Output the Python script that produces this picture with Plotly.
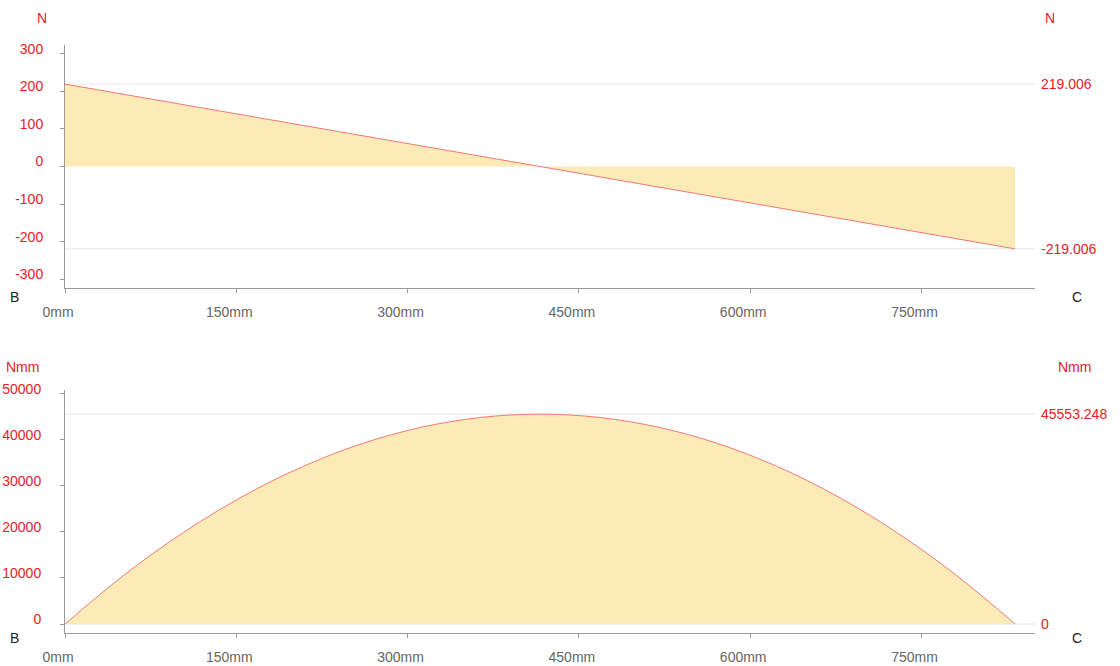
import plotly.graph_objects as go

# ---- data ----
shear_x = [0, 832]
shear_v = [219.006, -219.006]

moment_x = [0, 52, 104, 156, 208, 260, 312, 364, 416, 468, 520, 572, 624, 676, 728, 780, 832]
moment_v = [0, 10676.6, 19929.7, 27759.2, 34165.2, 39147.6, 42706.4, 44841.8, 45553.248,
            44841.8, 42706.4, 39147.6, 34165.2, 27759.2, 19929.7, 10676.6, 0]

x_ticks = [0, 150, 300, 450, 600, 750]
x_tick_labels = ["0mm", "150mm", "300mm", "450mm", "600mm", "750mm"]
shear_ticks = [-300, -200, -100, 0, 100, 200, 300]
shear_tick_labels = ["-300", "-200", "-100", "0", "100", "200", "300"]
moment_ticks = [0, 10000, 20000, 30000, 40000, 50000]
moment_tick_labels = ["0", "10000", "20000", "30000", "40000", "50000"]
shear_marks = [219.006, -219.006]
shear_mark_labels = ["219.006", "-219.006"]
moment_marks = [45553.248, 0]
moment_mark_labels = ["45553.248", "0"]

RED = "#e8202a"
FILL = "rgba(253,232,170,0.85)"
LINE = "#f07878"
AXIS = "#9a9a9a"
FONT = "Arial, Liberation Sans, sans-serif"

W, H = 1120, 666
ML, MR, MT, MB = 65, 85, 45, 33
PW, PH = W - ML - MR, H - MT - MB


def px(xp):
    return (xp - ML) / PW


def py(yp):
    return (H - MB - yp) / PH


fig = go.Figure()
fig.add_trace(go.Scatter(x=shear_x, y=shear_v, mode="lines", fill="tozeroy",
                         fillcolor=FILL, line=dict(color=LINE, width=1),
                         xaxis="x", yaxis="y", hoverinfo="skip"))
fig.add_trace(go.Scatter(x=moment_x, y=moment_v, mode="lines", fill="tozeroy",
                         fillcolor=FILL, line=dict(color=LINE, width=1, shape="spline"),
                         xaxis="x2", yaxis="y2", hoverinfo="skip"))

xcommon = dict(range=[0, 849.4], tickmode="array", tickvals=x_ticks, ticktext=x_tick_labels,
               showgrid=False, zeroline=False, showline=True, linecolor=AXIS, linewidth=1,
               ticks="outside", ticklen=4, tickcolor=AXIS, automargin=False,
               tickfont=dict(family=FONT, size=14, color="#666666"),
               ticklabelshift=-7, ticklabelstandoff=7, fixedrange=True)
ycommon = dict(showgrid=False, zeroline=False, showline=True, linecolor=AXIS, linewidth=1,
               ticks="outside", ticklen=4, tickcolor=AXIS, automargin=False,
               tickfont=dict(family=FONT, size=14, color=RED),
               ticklabelshift=-5, fixedrange=True)

fig.update_layout(
    width=W, height=H,
    margin=dict(l=ML, r=MR, t=MT, b=MB),
    paper_bgcolor="white", plot_bgcolor="white",
    showlegend=False,
    xaxis=dict(domain=[0, 1], anchor="y", **xcommon),
    yaxis=dict(domain=[py(288), 1.0], anchor="x", range=[-323, 323],
               tickmode="array", tickvals=shear_ticks, ticktext=shear_tick_labels,
               ticklabelstandoff=14, **ycommon),
    xaxis2=dict(domain=[0, 1], anchor="y2", **xcommon),
    yaxis2=dict(domain=[0, py(390)], anchor="x2", range=[-1950, 50800],
                tickmode="array", tickvals=moment_ticks, ticktext=moment_tick_labels,
                ticklabelstandoff=16, **ycommon),
)

shapes = []
annotations = []
for v, t in zip(shear_marks, shear_mark_labels):
    shapes.append(dict(type="line", xref="x domain", yref="y", x0=0, x1=1, y0=v, y1=v,
                       line=dict(color="#e6e6e6", width=1), layer="below"))
    annotations.append(dict(xref="x domain", yref="y", x=1.0, y=v, xanchor="left", xshift=4,
                            text=t, showarrow=False, font=dict(family=FONT, size=14, color=RED)))
for v, t in zip(moment_marks, moment_mark_labels):
    shapes.append(dict(type="line", xref="x2 domain", yref="y2", x0=0, x1=1, y0=v, y1=v,
                       line=dict(color="#e6e6e6", width=1), layer="below"))
    annotations.append(dict(xref="x2 domain", yref="y2", x=1.0, y=v, xanchor="left", xshift=4,
                            text=t, showarrow=False, font=dict(family=FONT, size=14, color=RED)))

corner = [
    ("N", 42, 18, RED), ("N", 1050, 18, RED),
    ("Nmm", 22, 367, RED), ("Nmm", 1074, 367, RED),
    ("B", 14, 297, "#222222"), ("C", 1077, 297, "#222222"),
    ("B", 14, 638, "#222222"), ("C", 1077, 638, "#222222"),
]
for t, xp, yp, c in corner:
    annotations.append(dict(xref="paper", yref="paper", x=px(xp), y=py(yp),
                            xanchor="center", yanchor="middle", text=t, showarrow=False,
                            font=dict(family=FONT, size=14, color=c)))

fig.update_layout(shapes=shapes, annotations=annotations)
fig.write_html("out.html")
